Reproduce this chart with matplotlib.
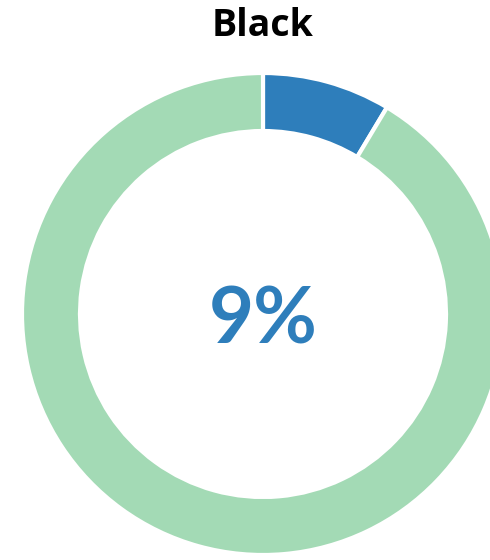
import matplotlib
matplotlib.use("Agg")
import matplotlib.pyplot as plt

title = "Black"
categories = ["Black", "Other"]
shares = [8.6, 91.4]
label_text = "9%"
colors = ["#2e7ebb", "#a3dab5"]

fig = plt.figure(figsize=(4.9, 5.6), dpi=100)
ax = fig.add_axes([0, 0, 1, 1])

ax.pie(shares, colors=colors, startangle=90, counterclock=False,
       radius=241, center=(263, 246), frame=True,
       wedgeprops=dict(width=58, edgecolor="white", linewidth=3))
ax.set_xlim(0, 490)
ax.set_ylim(0, 560)
ax.set_aspect("equal")
ax.axis("off")

ax.text(263, 560 - 322, label_text, ha="center", va="center",
        fontsize=56, color=colors[0], family="Lato", fontweight="bold")
ax.text(263, 560 - 26, title, ha="center", va="center",
        fontsize=27, fontweight="bold", family="Open Sans", color="black")

fig.savefig("out.png", dpi=100)
